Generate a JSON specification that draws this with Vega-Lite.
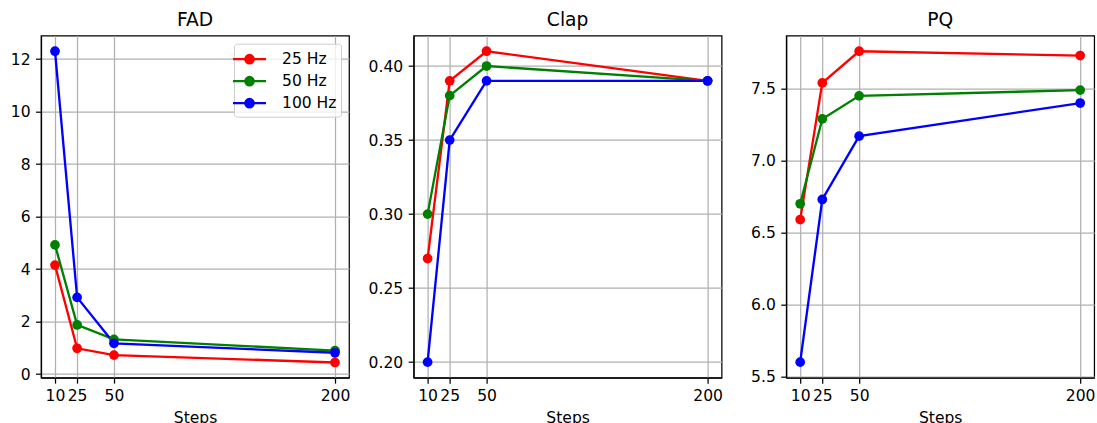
{
  "$schema": "https://vega.github.io/schema/vega-lite/v6.json",
  "padding": {"left": 0, "top": 9.7, "right": 0, "bottom": 0},
  "background": "white",
  "spacing": 15.6,
  "datasets": {
    "d": [
      {"metric": "FAD", "rate": "25 Hz", "steps": 10, "value": 4.15},
      {"metric": "FAD", "rate": "25 Hz", "steps": 25, "value": 0.98},
      {"metric": "FAD", "rate": "25 Hz", "steps": 50, "value": 0.72},
      {"metric": "FAD", "rate": "25 Hz", "steps": 200, "value": 0.44},
      {"metric": "FAD", "rate": "50 Hz", "steps": 10, "value": 4.92},
      {"metric": "FAD", "rate": "50 Hz", "steps": 25, "value": 1.87},
      {"metric": "FAD", "rate": "50 Hz", "steps": 50, "value": 1.32},
      {"metric": "FAD", "rate": "50 Hz", "steps": 200, "value": 0.89},
      {"metric": "FAD", "rate": "100 Hz", "steps": 10, "value": 12.3},
      {"metric": "FAD", "rate": "100 Hz", "steps": 25, "value": 2.92},
      {"metric": "FAD", "rate": "100 Hz", "steps": 50, "value": 1.17},
      {"metric": "FAD", "rate": "100 Hz", "steps": 200, "value": 0.81},
      {"metric": "Clap", "rate": "25 Hz", "steps": 10, "value": 0.27},
      {"metric": "Clap", "rate": "25 Hz", "steps": 25, "value": 0.39},
      {"metric": "Clap", "rate": "25 Hz", "steps": 50, "value": 0.41},
      {"metric": "Clap", "rate": "25 Hz", "steps": 200, "value": 0.39},
      {"metric": "Clap", "rate": "50 Hz", "steps": 10, "value": 0.30},
      {"metric": "Clap", "rate": "50 Hz", "steps": 25, "value": 0.38},
      {"metric": "Clap", "rate": "50 Hz", "steps": 50, "value": 0.40},
      {"metric": "Clap", "rate": "50 Hz", "steps": 200, "value": 0.39},
      {"metric": "Clap", "rate": "100 Hz", "steps": 10, "value": 0.20},
      {"metric": "Clap", "rate": "100 Hz", "steps": 25, "value": 0.35},
      {"metric": "Clap", "rate": "100 Hz", "steps": 50, "value": 0.39},
      {"metric": "Clap", "rate": "100 Hz", "steps": 200, "value": 0.39},
      {"metric": "PQ", "rate": "25 Hz", "steps": 10, "value": 6.59},
      {"metric": "PQ", "rate": "25 Hz", "steps": 25, "value": 7.54},
      {"metric": "PQ", "rate": "25 Hz", "steps": 50, "value": 7.76},
      {"metric": "PQ", "rate": "25 Hz", "steps": 200, "value": 7.73},
      {"metric": "PQ", "rate": "50 Hz", "steps": 10, "value": 6.70},
      {"metric": "PQ", "rate": "50 Hz", "steps": 25, "value": 7.29},
      {"metric": "PQ", "rate": "50 Hz", "steps": 50, "value": 7.45},
      {"metric": "PQ", "rate": "50 Hz", "steps": 200, "value": 7.49},
      {"metric": "PQ", "rate": "100 Hz", "steps": 10, "value": 5.60},
      {"metric": "PQ", "rate": "100 Hz", "steps": 25, "value": 6.73},
      {"metric": "PQ", "rate": "100 Hz", "steps": 50, "value": 7.17},
      {"metric": "PQ", "rate": "100 Hz", "steps": 200, "value": 7.40}
    ]
  },
  "config": {
    "font": "DejaVu Sans",
    "view": {"stroke": "black", "strokeWidth": 1.24},
    "axis": {
      "labelFont": "DejaVu Sans",
      "labelFontSize": 15.56,
      "labelColor": "black",
      "titleFont": "DejaVu Sans",
      "titleFontSize": 15.56,
      "titleFontWeight": "normal",
      "titleColor": "black",
      "domainColor": "black",
      "domainWidth": 1.24,
      "tickColor": "black",
      "tickWidth": 1.24,
      "tickSize": 5.44,
      "labelPadding": 5.44,
      "gridColor": "#b0b0b0",
      "gridWidth": 1.24,
      "grid": true
    },
    "axisX": {"titlePadding": 6.2, "labelFlush": false, "labelOverlap": false},
    "title": {"font": "DejaVu Sans", "fontSize": 18.67, "fontWeight": "normal", "color": "black", "anchor": "middle", "offset": 5.8, "baseline": "alphabetic"},
    "legend": {
      "orient": "top-right",
      "offset": 8,
      "title": null,
      "labelFont": "DejaVu Sans",
      "labelFontSize": 15.56,
      "labelColor": "black",
      "strokeColor": "#cccccc",
      "fillColor": "rgba(255,255,255,0.8)",
      "cornerRadius": 3,
      "padding": 4,
      "rowPadding": 1,
      "labelOffset": 21,
      "symbolType": "M-2.02,0M-1.65,0L1.65,0M-0.42,0A0.42,0.42,0,1,1,0.42,0A0.42,0.42,0,1,1,-0.42,0Z",
      "symbolSize": 400,
      "symbolStrokeWidth": 2.33
    }
  },
  "resolve": {"scale": {"y": "independent"}, "legend": {"color": "independent"}},
  "hconcat": [
    {
      "title": "FAD",
      "width": 308, "height": 342,
      "data": {"name": "d"},
      "transform": [{"filter": "datum.metric === 'FAD'"}],
      "encoding": {
        "x": {"field": "steps", "type": "quantitative", "title": "Steps", "scale": {"domain": [0.5, 209.5], "nice": false, "zero": false}, "axis": {"values": [10, 25, 50, 200]}},
        "y": {"field": "value", "type": "quantitative", "title": null, "scale": {"domain": [-0.14, 12.89], "nice": false, "zero": false}, "axis": {"values": [0, 2, 4, 6, 8, 10, 12], "format": "d", "minExtent": 39.5, "maxExtent": 39.5}},
        "color": {"field": "rate", "type": "nominal", "sort": ["25 Hz", "50 Hz", "100 Hz"], "scale": {"domain": ["25 Hz", "50 Hz", "100 Hz"], "range": ["#ff0000", "#008000", "#0000ff"]}}
      },
      "layer": [
        {"mark": {"type": "line", "strokeWidth": 2.33}},
        {"mark": {"type": "point", "filled": true, "size": 95, "opacity": 1}}
      ]
    },
    {
      "title": "Clap",
      "width": 308, "height": 342,
      "data": {"name": "d"},
      "transform": [{"filter": "datum.metric === 'Clap'"}],
      "encoding": {
        "x": {"field": "steps", "type": "quantitative", "title": "Steps", "scale": {"domain": [0.5, 209.5], "nice": false, "zero": false}, "axis": {"values": [10, 25, 50, 200]}},
        "y": {"field": "value", "type": "quantitative", "title": null, "scale": {"domain": [0.1895, 0.4205], "nice": false, "zero": false}, "axis": {"values": [0.2, 0.25, 0.3, 0.35, 0.4], "format": ".2f", "minExtent": 45.5, "maxExtent": 45.5}},
        "color": {"field": "rate", "type": "nominal", "sort": ["25 Hz", "50 Hz", "100 Hz"], "scale": {"domain": ["25 Hz", "50 Hz", "100 Hz"], "range": ["#ff0000", "#008000", "#0000ff"]}, "legend": null}
      },
      "layer": [
        {"mark": {"type": "line", "strokeWidth": 2.33}},
        {"mark": {"type": "point", "filled": true, "size": 95, "opacity": 1}}
      ]
    },
    {
      "title": "PQ",
      "width": 308, "height": 342,
      "data": {"name": "d"},
      "transform": [{"filter": "datum.metric === 'PQ'"}],
      "encoding": {
        "x": {"field": "steps", "type": "quantitative", "title": "Steps", "scale": {"domain": [0.5, 209.5], "nice": false, "zero": false}, "axis": {"values": [10, 25, 50, 200]}},
        "y": {"field": "value", "type": "quantitative", "title": null, "scale": {"domain": [5.492, 7.868], "nice": false, "zero": false}, "axis": {"values": [5.5, 6.0, 6.5, 7.0, 7.5], "format": ".1f", "minExtent": 45.5, "maxExtent": 45.5}},
        "color": {"field": "rate", "type": "nominal", "sort": ["25 Hz", "50 Hz", "100 Hz"], "scale": {"domain": ["25 Hz", "50 Hz", "100 Hz"], "range": ["#ff0000", "#008000", "#0000ff"]}, "legend": null}
      },
      "layer": [
        {"mark": {"type": "line", "strokeWidth": 2.33}},
        {"mark": {"type": "point", "filled": true, "size": 95, "opacity": 1}}
      ]
    }
  ]
}
